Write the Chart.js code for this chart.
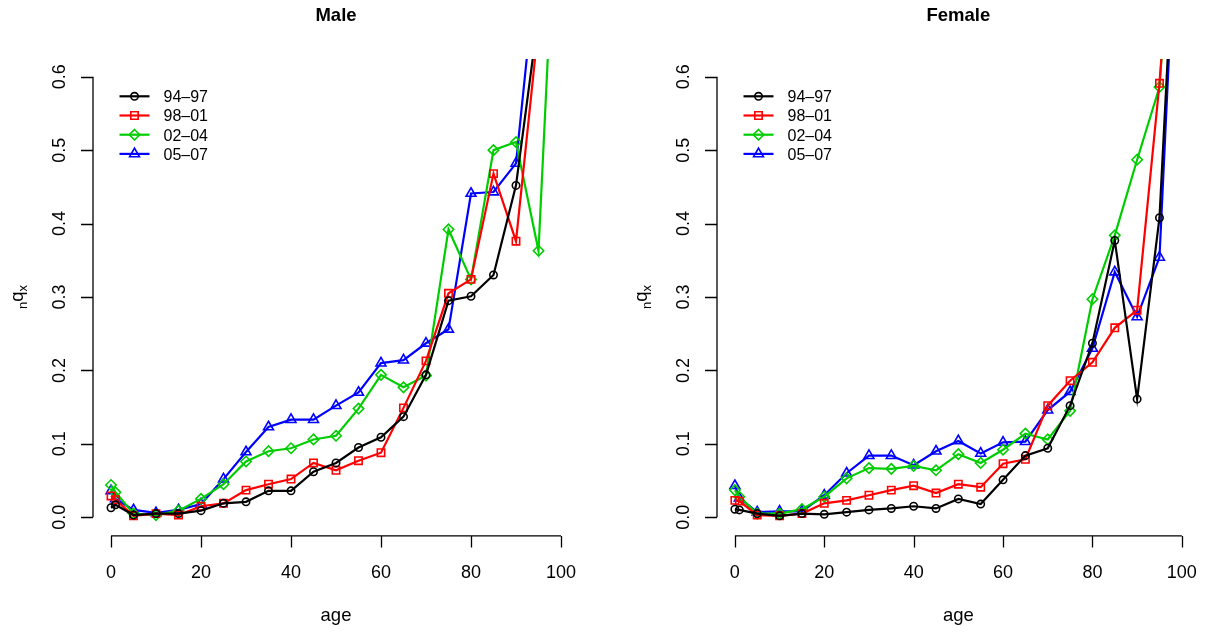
<!DOCTYPE html>
<html>
<head>
<meta charset="utf-8">
<script src="https://cdn.jsdelivr.net/npm/chart.js@4.4.1/dist/chart.umd.min.js"></script>
<style>
  html, body { margin: 0; padding: 0; background: #ffffff; }
  #wrap { position: relative; width: 1207px; height: 632px; background: #ffffff; }
  canvas { position: absolute; left: 0; top: 0; }
</style>
</head>
<body>
<div id="wrap">
  <canvas id="male" width="1207" height="632"></canvas>
  <canvas id="female" width="1207" height="632"></canvas>
</div>
<script>
// ---------------- data ----------------
const ages = [0, 1, 5, 10, 15, 20, 25, 30, 35, 40, 45, 50, 55, 60, 65, 70, 75, 80, 85, 90, 95, 100];
const periods = ["94\u201397", "98\u201301", "02\u201304", "05\u201307"];

const male9497 = [0.013, 0.017, 0.003, 0.005, 0.005, 0.009, 0.019, 0.021, 0.036, 0.036, 0.062, 0.074, 0.095, 0.109, 0.137, 0.194, 0.295, 0.301, 0.330, 0.452, 0.684, 1.0];
const male9801 = [0.029, 0.024, 0.002, 0.005, 0.003, 0.015, 0.019, 0.037, 0.045, 0.052, 0.074, 0.064, 0.077, 0.088, 0.149, 0.213, 0.305, 0.324, 0.468, 0.376, 0.670, 1.0];
const male0204 = [0.044, 0.034, 0.005, 0.003, 0.009, 0.025, 0.045, 0.076, 0.090, 0.094, 0.106, 0.111, 0.148, 0.194, 0.177, 0.193, 0.392, 0.324, 0.500, 0.511, 0.363, 1.0];
const male0507 = [0.036, 0.025, 0.010, 0.006, 0.010, 0.018, 0.052, 0.089, 0.123, 0.133, 0.133, 0.152, 0.170, 0.210, 0.214, 0.237, 0.256, 0.441, 0.443, 0.482, 0.781, 1.0];

const female9497 = [0.011, 0.010, 0.005, 0.002, 0.005, 0.004, 0.007, 0.010, 0.012, 0.015, 0.012, 0.025, 0.018, 0.051, 0.084, 0.094, 0.152, 0.237, 0.377, 0.161, 0.408, 1.0];
const female9801 = [0.023, 0.022, 0.003, 0.002, 0.005, 0.019, 0.023, 0.030, 0.037, 0.043, 0.033, 0.045, 0.041, 0.073, 0.079, 0.152, 0.186, 0.211, 0.258, 0.282, 0.591, 1.0];
const female0204 = [0.037, 0.028, 0.005, 0.005, 0.011, 0.028, 0.053, 0.067, 0.066, 0.070, 0.064, 0.086, 0.074, 0.092, 0.114, 0.106, 0.145, 0.297, 0.384, 0.487, 0.586, 1.0];
const female0507 = [0.043, 0.026, 0.007, 0.008, 0.008, 0.030, 0.060, 0.084, 0.084, 0.071, 0.090, 0.104, 0.087, 0.102, 0.103, 0.146, 0.171, 0.230, 0.334, 0.273, 0.354, 1.0];

const xTicks = [0, 20, 40, 60, 80, 100];
const yTicks = [0.0, 0.1, 0.2, 0.3, 0.4, 0.5, 0.6];
const yTickLabels = ["0.0", "0.1", "0.2", "0.3", "0.4", "0.5", "0.6"];

// ---------------- styles ----------------
const colors = ["#000000", "#FF0000", "#00CD00", "#0000FF"];
const pStyles = ["circle", "rect", "rectRot", "triangle"];
const pRadius = [3.7, 5.2, 5.2, 5.7];
const FONT = "'Liberation Sans', Arial, Helvetica, sans-serif";

function drawMarker(ctx, style, x, y, r) {
  ctx.beginPath();
  if (style === "circle") {
    ctx.arc(x, y, r, 0, Math.PI * 2);
  } else if (style === "rect") {
    const s = r / Math.SQRT2;
    ctx.rect(x - s, y - s, 2 * s, 2 * s);
  } else if (style === "rectRot") {
    ctx.moveTo(x, y - r); ctx.lineTo(x + r, y); ctx.lineTo(x, y + r); ctx.lineTo(x - r, y); ctx.closePath();
  } else if (style === "triangle") {
    let a = 0;
    ctx.moveTo(x + Math.sin(a) * r, y - Math.cos(a) * r);
    a += 2 * Math.PI / 3;
    ctx.lineTo(x + Math.sin(a) * r, y - Math.cos(a) * r);
    a += 2 * Math.PI / 3;
    ctx.lineTo(x + Math.sin(a) * r, y - Math.cos(a) * r);
    ctx.closePath();
  }
  ctx.stroke();
}

const rAxesPlugin = {
  id: "rAxes",
  afterDraw(chart, args, opts) {
    const ctx = chart.ctx;
    const xs = chart.scales.x, ys = chart.scales.y;
    const ca = chart.chartArea;
    ctx.save();
    ctx.strokeStyle = "#000";
    ctx.fillStyle = "#000";
    ctx.lineWidth = 1.3;
    ctx.lineCap = "butt";

    // x axis
    const axY = ca.bottom + 1;
    const xa = xs.getPixelForValue(xTicks[0]);
    const xb = xs.getPixelForValue(xTicks[xTicks.length - 1]);
    ctx.beginPath();
    ctx.moveTo(xa, axY); ctx.lineTo(xb, axY);
    xTicks.forEach(t => {
      const px = Math.round(xs.getPixelForValue(t)) + 0.5;
      ctx.moveTo(px, axY); ctx.lineTo(px, axY + 11.5);
    });
    ctx.stroke();
    ctx.font = "18px " + FONT;
    ctx.textAlign = "center";
    ctx.textBaseline = "alphabetic";
    xTicks.forEach(t => ctx.fillText(String(t), xs.getPixelForValue(t), 577.5));

    // y axis
    const axX = ca.left;
    const ya = ys.getPixelForValue(yTicks[0]);
    const yb = ys.getPixelForValue(yTicks[yTicks.length - 1]);
    ctx.beginPath();
    ctx.moveTo(axX, ya); ctx.lineTo(axX, yb);
    yTicks.forEach(t => {
      const py = Math.round(ys.getPixelForValue(t)) + 0.5;
      ctx.moveTo(axX, py); ctx.lineTo(axX - 12, py);
    });
    ctx.stroke();
    yTicks.forEach((t, i) => {
      ctx.save();
      ctx.translate(axX - 28, ys.getPixelForValue(t));
      ctx.rotate(-Math.PI / 2);
      ctx.fillText(yTickLabels[i], 0, 0);
      ctx.restore();
    });

    // title
    const cx = (ca.left + ca.right) / 2;
    ctx.font = "bold 18.5px " + FONT;
    ctx.fillText(opts.title, cx, 20.7);

    // x label
    ctx.font = "18.5px " + FONT;
    ctx.fillText("age", cx, 621);

    // y label  n q x (subscripts)
    const cy = (ca.top + ca.bottom) / 2;
    ctx.save();
    ctx.translate(axX - 70, cy);
    ctx.rotate(-Math.PI / 2);
    ctx.textAlign = "left";
    const big = "18.5px " + FONT, small = "13px " + FONT;
    ctx.font = small; const wn = ctx.measureText("n").width; const wx = ctx.measureText("x").width;
    ctx.font = big; const wq = ctx.measureText("q").width;
    let sx = -(wn + wq + wx) / 2;
    ctx.font = small; ctx.fillText("n", sx, 4); sx += wn;
    ctx.font = big; ctx.fillText("q", sx, 0); sx += wq;
    ctx.font = small; ctx.fillText("x", sx, 4);
    ctx.restore();

    // legend
    ctx.font = "16px " + FONT;
    ctx.textAlign = "left";
    const lx0 = axX + 26.5, lx1 = axX + 56.5, tx = axX + 70.5;
    periods.forEach((p, i) => {
      const ly = 96.3 + i * 19.2;
      ctx.strokeStyle = colors[i];
      ctx.lineWidth = 2.2;
      ctx.beginPath(); ctx.moveTo(lx0, ly); ctx.lineTo(lx1, ly); ctx.stroke();
      ctx.lineWidth = 1.6;
      drawMarker(ctx, pStyles[i], (lx0 + lx1) / 2, ly, pRadius[i]);
      ctx.fillStyle = "#000";
      ctx.fillText(p, tx, ly + 5.8);
    });
    ctx.restore();
  }
};

function makeDatasets(series) {
  return series.map((vals, i) => ({
    label: periods[i],
    data: ages.map((a, j) => ({ x: a, y: vals[j] })),
    borderColor: colors[i],
    backgroundColor: "rgba(0,0,0,0)",
    borderWidth: 2.2,
    pointStyle: pStyles[i],
    pointRadius: pRadius[i],
    pointBorderWidth: 1.6,
    pointBorderColor: colors[i],
    pointBackgroundColor: "rgba(0,0,0,0)",
    tension: 0,
    fill: false
  }));
}

function makeChart(id, title, series, padLeft, padRight) {
  return new Chart(document.getElementById(id), {
    type: "line",
    data: { datasets: makeDatasets(series) },
    options: {
      responsive: false,
      animation: false,
      devicePixelRatio: 1,
      layout: { padding: { left: padLeft, right: padRight, top: 59.1, bottom: 632 - 534.9 } },
      scales: {
        x: { type: "linear", min: -4, max: 104, display: false },
        y: { type: "linear", min: -0.024, max: 0.624, display: false }
      },
      plugins: {
        legend: { display: false },
        tooltip: { enabled: false },
        rAxes: { title: title }
      }
    },
    plugins: [rAxesPlugin]
  });
}

makeChart("male", "Male", [male9497, male9801, male0204, male0507], 93, 1207 - 579);
makeChart("female", "Female", [female9497, female9801, female0204, female0507], 717, 1207 - 1203);
</script>
</body>
</html>
